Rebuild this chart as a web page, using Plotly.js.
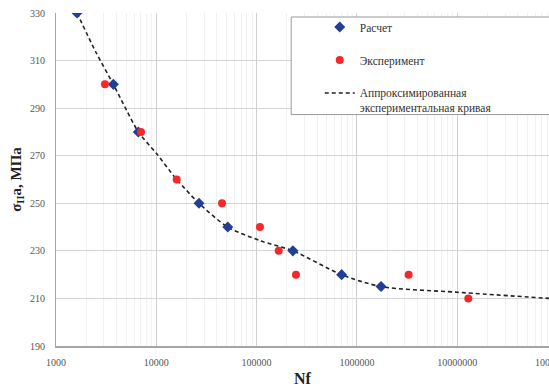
<!DOCTYPE html>
<html><head><meta charset="utf-8">
<script src="https://cdn.plot.ly/plotly-3.0.1.min.js"></script>
<style>html,body{margin:0;padding:0;background:#fff;overflow:hidden}</style>
</head><body><div id="chart" style="width:549px;height:388px"></div>
<script>
// Расчет (calculated)
const calcN = [1620, 3730, 6620, 26650, 51560, 230000, 704000, 1740000];
const calcS = [330, 300, 280, 250, 240, 230, 220, 215];
// Эксперимент (experiment)
const expN = [3075, 7040, 15970, 45200, 108000, 166000, 247000, 3280000, 12900000];
const expS = [300, 280, 260, 250, 240, 230, 220, 220, 210];
// Аппроксимированная экспериментальная кривая
const fitN = [1620, 2500, 3730, 5000, 6620, 10000, 16000, 26650, 51560, 110000, 230000, 704000, 1740000, 10000000, 100000000];
const fitS = [330, 313.5, 300, 289.5, 280, 271, 260, 250, 240, 234.2, 230, 220, 215, 212.6, 209.8];
// axis ticks
const xTicks = [1000, 10000, 100000, 1000000, 10000000, 100000000];
const yTicks = [190, 210, 230, 250, 270, 290, 310, 330];
const names = ['Расчет', 'Эксперимент', 'Аппроксимированная<br>экспериментальная кривая'];

const serif = '"Liberation Serif", "Times New Roman", serif';

const traces = [
  {x: fitN, y: fitS, mode: 'lines', name: names[2], legendrank: 3, legendgroup: 'c',
   line: {color: '#222', width: 1.6, dash: '4px,3px', shape: 'spline', smoothing: 0.8}},
  {x: calcN, y: calcS, mode: 'markers', name: names[0], legendrank: 1, legendgroup: 'a',
   marker: {symbol: 'diamond', size: 8.5, color: '#213f99'}},
  {x: expN, y: expS, mode: 'markers', name: names[1], legendrank: 2, legendgroup: 'b',
   marker: {symbol: 'circle', size: 8, color: '#f42828'}}
];

const layout = {
  width: 549, height: 388,
  margin: {l: 56, r: 0, t: 13, b: 42},
  paper_bgcolor: '#fff', plot_bgcolor: '#fff',
  font: {family: serif, color: '#444', size: 10},
  showlegend: true,
  legend: {x: 0.535, xanchor: 'left', y: 1.0, yanchor: 'top', bgcolor: 'rgba(0,0,0,0)',
           borderwidth: 0, font: {family: serif, size: 11.5, color: '#333'},
           traceorder: 'grouped', tracegroupgap: 14, valign: 'top'},
  xaxis: {type: 'log', range: [3, 7.915], tickvals: xTicks, tickformat: 'd',
          showgrid: true, gridcolor: '#cfcfcf', gridwidth: 1,
          minor: {showgrid: true, gridcolor: '#f1f1f1', dtick: 'D1', ticks: ''},
          showline: true, linecolor: '#a6a6a6', linewidth: 2,
          ticks: 'outside', ticklen: 6, tickcolor: 'rgba(0,0,0,0)',
          tickfont: {family: serif, size: 10, color: '#555'},
          title: {text: 'Nf', font: {family: serif, size: 16, color: '#222', weight: 'bold'}, standoff: 6},
          zeroline: false, fixedrange: true},
  yaxis: {range: [190, 330], tickvals: yTicks,
          showgrid: true, gridcolor: '#d6d6d6', gridwidth: 1,
          showline: true, linecolor: '#a6a6a6', linewidth: 1,
          ticks: 'outside', ticklen: 8, tickcolor: 'rgba(0,0,0,0)',
          tickfont: {family: serif, size: 10, color: '#555'},
          title: {text: 'σ<sub>II</sub>a, МПа', font: {family: serif, size: 15, color: '#222', weight: 'bold'}, standoff: 4},
          zeroline: false, fixedrange: true},
  shapes: [
    {type: 'rect', xref: 'paper', yref: 'paper', x0: 0.477, x1: 1.2, y0: 0.695, y1: 0.988,
     line: {color: '#9a9a9a', width: 1}, fillcolor: '#fff', layer: 'above'}
  ],
  annotations: [
    {xref: 'paper', yref: 'paper', x: 1.0174, y: 0, yanchor: 'top', xanchor: 'center', yshift: -9,
     text: '100000000', showarrow: false, font: {family: serif, size: 10, color: '#555'}}
  ]
};

Plotly.newPlot('chart', traces, layout, {displayModeBar: false, staticPlot: true});
</script>
</body></html>
